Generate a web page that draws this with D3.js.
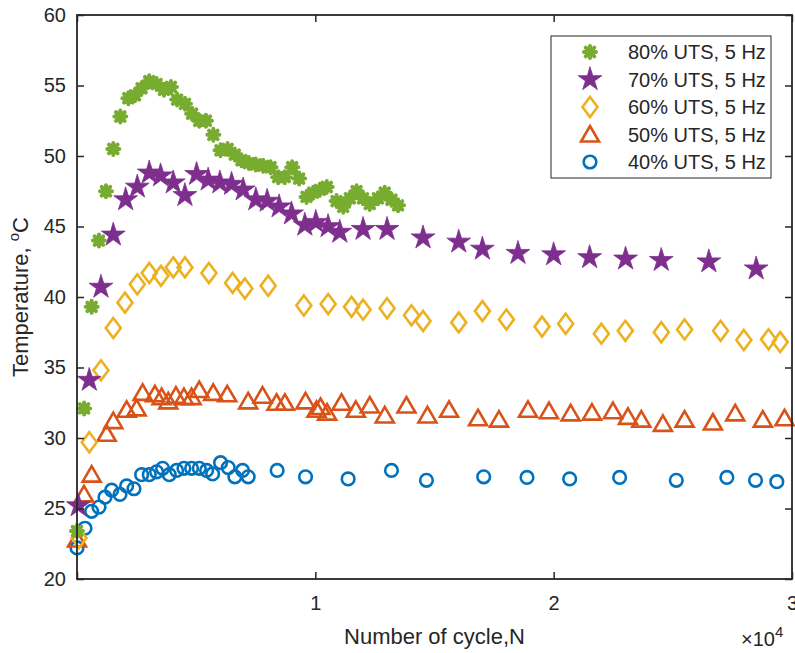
<!DOCTYPE html>
<html>
<head>
<meta charset="utf-8">
<script src="https://cdn.jsdelivr.net/npm/d3@7"></script>
<style>
  body { margin: 0; background: #fff; }
  svg text { font-family: "Liberation Sans", Arial, Helvetica, sans-serif; fill: #262626; }
</style>
</head>
<body>
<div id="chart"></div>
<script>
const margins = {top: 15, right: 3, bottom: 74, left: 77, width: 795, height: 653};

// ---- data (cycles N, temperature in degC) ----
const seriesNames = ["80% UTS, 5 Hz", "70% UTS, 5 Hz", "60% UTS, 5 Hz", "50% UTS, 5 Hz", "40% UTS, 5 Hz"];

const n80 = [0, 300, 615, 920, 1216, 1523, 1817, 2153, 2432, 2710, 3030, 3340, 3650, 3940, 4200, 4530, 4830, 5130, 5410, 5720, 6020, 6320, 6620, 6900, 7210, 7500, 7810, 8120, 8440, 8720, 9030, 9320, 9630, 9910, 10190, 10480, 10890, 11170, 11450, 11730, 12000, 12285, 12630, 12910, 13195, 13470];
const t80 = [23.4, 32.1, 39.3, 44.0, 47.5, 50.5, 52.8, 54.1, 54.3, 54.8, 55.3, 55.1, 54.7, 54.9, 54.0, 53.7, 53.0, 52.5, 52.5, 51.5, 50.4, 50.5, 50.1, 49.7, 49.5, 49.4, 49.3, 49.2, 48.5, 48.5, 49.2, 48.4, 47.1, 47.4, 47.6, 47.8, 46.8, 46.4, 47.0, 47.5, 47.0, 46.6, 47.0, 47.4, 46.9, 46.5];

const n70 = [55, 516, 1006, 1523, 2041, 2530, 3033, 3508, 4040, 4528, 5018, 5506, 5996, 6486, 6973, 7505, 7980, 8482, 9002, 9560, 10021, 10537, 11027, 12004, 13010, 14520, 16017, 17010, 18503, 20000, 21509, 23019, 24515, 26512, 28498];
const t70 = [25.2, 34.1, 40.7, 44.4, 46.9, 47.8, 48.8, 48.6, 48.1, 47.2, 48.7, 48.3, 48.1, 48.0, 47.6, 46.9, 46.8, 46.4, 45.9, 45.1, 45.3, 45.0, 44.6, 44.8, 44.8, 44.2, 43.9, 43.4, 43.1, 43.0, 42.8, 42.7, 42.6, 42.5, 42.0];

const n60 = [84, 516, 1006, 1523, 2013, 2530, 3033, 3522, 4040, 4528, 5535, 6528, 7044, 8022, 9518, 10537, 11518, 12004, 13010, 14033, 14520, 16017, 17010, 18017, 19510, 20503, 22000, 23006, 24515, 25493, 27002, 27979, 29015, 29505];
const t60 = [22.9, 29.7, 34.8, 37.8, 39.6, 40.9, 41.7, 41.5, 42.1, 42.1, 41.7, 41.0, 40.6, 40.8, 39.4, 39.5, 39.3, 39.1, 39.2, 38.7, 38.3, 38.2, 39.0, 38.4, 37.9, 38.1, 37.4, 37.6, 37.5, 37.7, 37.6, 36.95, 37.0, 36.8];

const n50 = [0, 293, 615, 1244, 1523, 2083, 2502, 2754, 3270, 3550, 3830, 4151, 4486, 4808, 5130, 5716, 6303, 7183, 7785, 8373, 8721, 9589, 10050, 10218, 10495, 11098, 11698, 12285, 12914, 13824, 14704, 15611, 16826, 17706, 18922, 19803, 20713, 21606, 22487, 23116, 23677, 24583, 25493, 26680, 27618, 28776, 29686];
const t50 = [22.8, 26.0, 27.4, 30.3, 31.2, 32.0, 32.1, 33.2, 33.1, 32.9, 32.6, 33.0, 32.9, 32.9, 33.4, 33.2, 33.1, 32.6, 33.0, 32.5, 32.5, 32.6, 32.0, 32.2, 31.8, 32.5, 32.0, 32.3, 31.6, 32.3, 31.6, 32.0, 31.4, 31.3, 32.0, 31.9, 31.75, 31.8, 31.9, 31.5, 31.3, 31.0, 31.3, 31.1, 31.75, 31.3, 31.4];

const n40 = [0, 335, 615, 922, 1174, 1453, 1803, 2083, 2390, 2712, 3033, 3340, 3592, 3871, 4180, 4486, 4808, 5130, 5438, 5690, 6024, 6345, 6625, 6947, 7183, 8398, 9589, 11376, 13195, 14662, 17065, 18881, 20671, 22767, 25145, 27267, 28470, 29363];
const t40 = [22.2, 23.6, 24.8, 25.1, 25.8, 26.3, 26.0, 26.6, 26.4, 27.4, 27.4, 27.6, 27.85, 27.4, 27.7, 27.85, 27.85, 27.85, 27.7, 27.45, 28.25, 27.9, 27.25, 27.7, 27.25, 27.7, 27.25, 27.1, 27.7, 27.0, 27.25, 27.2, 27.1, 27.2, 27.0, 27.2, 27.0, 26.9];

const xTicks = [0, 10000, 20000, 30000];
const yTicks = [20, 25, 30, 35, 40, 45, 50, 55, 60];

// ---- marker shapes, MATLAB-like ----
const asterisk = "M-6,0L6,0M0,-6L0,6M-4.3,-4.3L4.3,4.3M-4.3,4.3L4.3,-4.3";
const diamond = "M0,-10L7.5,0L0,10L-7.5,0Z";
const triangle = "M0,-8.5L9,7L-9,7Z";
const star = d3.symbol(d3.symbolStar, 175)();
const circle = d3.symbol(d3.symbolCircle, 125)();

const series = [
    {name: seriesNames[0], n: n80, t: t80, color: "#77AC30", path: asterisk, fill: "none", sw: 4},
    {name: seriesNames[1], n: n70, t: t70, color: "#7E2F8E", path: star, fill: "#7E2F8E", sw: 0.8},
    {name: seriesNames[2], n: n60, t: t60, color: "#EDB120", path: diamond, fill: "none", sw: 2.6},
    {name: seriesNames[3], n: n50, t: t50, color: "#D95319", path: triangle, fill: "none", sw: 2.6},
    {name: seriesNames[4], n: n40, t: t40, color: "#0072BD", path: circle, fill: "none", sw: 2.6}
];

const svg = d3.select("#chart")
    .append("svg")
    .attr("width", margins.width)
    .attr("height", margins.height);

const xScale = d3.scaleLinear()
    .domain([0, 30000])
    .range([margins.left, margins.width - margins.right]);

const yScale = d3.scaleLinear()
    .domain([20, 60])
    .range([margins.height - margins.bottom, margins.top]);

const x0 = xScale.range()[0], x1 = xScale.range()[1];
const y0 = yScale.range()[0], y1 = yScale.range()[1];

// points, drawn from 40% up to 80% so the hot series sits on top
const pts = svg.append("g");
series.slice().reverse().forEach(s => {
    pts.append("g")
        .selectAll("path")
        .data(s.n.map((d, i) => [d, s.t[i]]))
        .enter().append("path")
        .attr("transform", d => "translate(" + xScale(d[0]) + "," + yScale(d[1]) + ")")
        .attr("d", s.path)
        .style("fill", s.fill)
        .style("stroke", s.color)
        .style("stroke-width", s.sw)
        .style("stroke-linecap", "round");
});

// axes with inward ticks on all four sides (box on)
const tickLen = 7;
svg.append("g")
    .attr("transform", "translate(0," + y0 + ")")
    .call(d3.axisBottom(xScale).tickValues(xTicks).tickSize(-tickLen).tickPadding(17)
        .tickFormat(d => d === 0 ? "" : d / 10000))
    .call(g => g.select(".domain").remove())
    .style("font-size", "20px");

svg.append("g")
    .attr("transform", "translate(0," + y1 + ")")
    .call(d3.axisTop(xScale).tickValues(xTicks).tickSize(-tickLen).tickFormat(""))
    .call(g => g.select(".domain").remove());

svg.append("g")
    .attr("transform", "translate(" + x0 + ",0)")
    .call(d3.axisLeft(yScale).tickValues(yTicks).tickSize(-tickLen).tickPadding(11))
    .call(g => g.select(".domain").remove())
    .style("font-size", "20px");

svg.append("g")
    .attr("transform", "translate(" + x1 + ",0)")
    .call(d3.axisRight(yScale).tickValues(yTicks).tickSize(-tickLen).tickFormat(""))
    .call(g => g.select(".domain").remove());

svg.selectAll(".tick line").style("stroke", "#262626").style("stroke-width", 1.5);
svg.selectAll(".tick text").style("fill", "#262626");

svg.append("rect")
    .attr("x", x0)
    .attr("y", y1)
    .attr("width", x1 - x0)
    .attr("height", y0 - y1)
    .style("fill", "none")
    .style("stroke", "#262626")
    .style("stroke-width", 1.8);

// axis labels
svg.append("text")
    .attr("x", (x0 + x1) / 2)
    .attr("y", 644)
    .attr("text-anchor", "middle")
    .style("font-size", "22px")
    .text("Number of cycle,N");

const expo = svg.append("text")
    .attr("x", 741)
    .attr("y", 646)
    .style("font-size", "20px");
expo.append("tspan").text("\u00d710");
expo.append("tspan").attr("dy", -9).style("font-size", "15px").text("4");

const ylab = svg.append("text")
    .attr("transform", "translate(28," + ((y0 + y1) / 2) + ") rotate(-90)")
    .attr("text-anchor", "middle")
    .style("font-size", "22px");
ylab.append("tspan").text("Temperature, ");
ylab.append("tspan").attr("dy", -9).style("font-size", "15px").text("o");
ylab.append("tspan").attr("dy", 9).text("C");

// legend
const legend = svg.append("g").attr("transform", "translate(551,36)");
legend.append("rect")
    .attr("width", 220)
    .attr("height", 142)
    .style("fill", "#fff")
    .style("stroke", "#262626")
    .style("stroke-width", 1);

const rowY = d3.scalePoint().domain(seriesNames).range([16, 126]);
series.forEach(s => {
    const row = legend.append("g").attr("transform", "translate(0," + rowY(s.name) + ")");
    row.append("path")
        .attr("transform", "translate(39,0)")
        .attr("d", s.path)
        .style("fill", s.fill)
        .style("stroke", s.color)
        .style("stroke-width", s.sw)
        .style("stroke-linecap", "round");
    row.append("text")
        .attr("x", 77)
        .attr("dy", "0.35em")
        .style("font-size", "20px")
        .text(s.name);
});
</script>
</body>
</html>
